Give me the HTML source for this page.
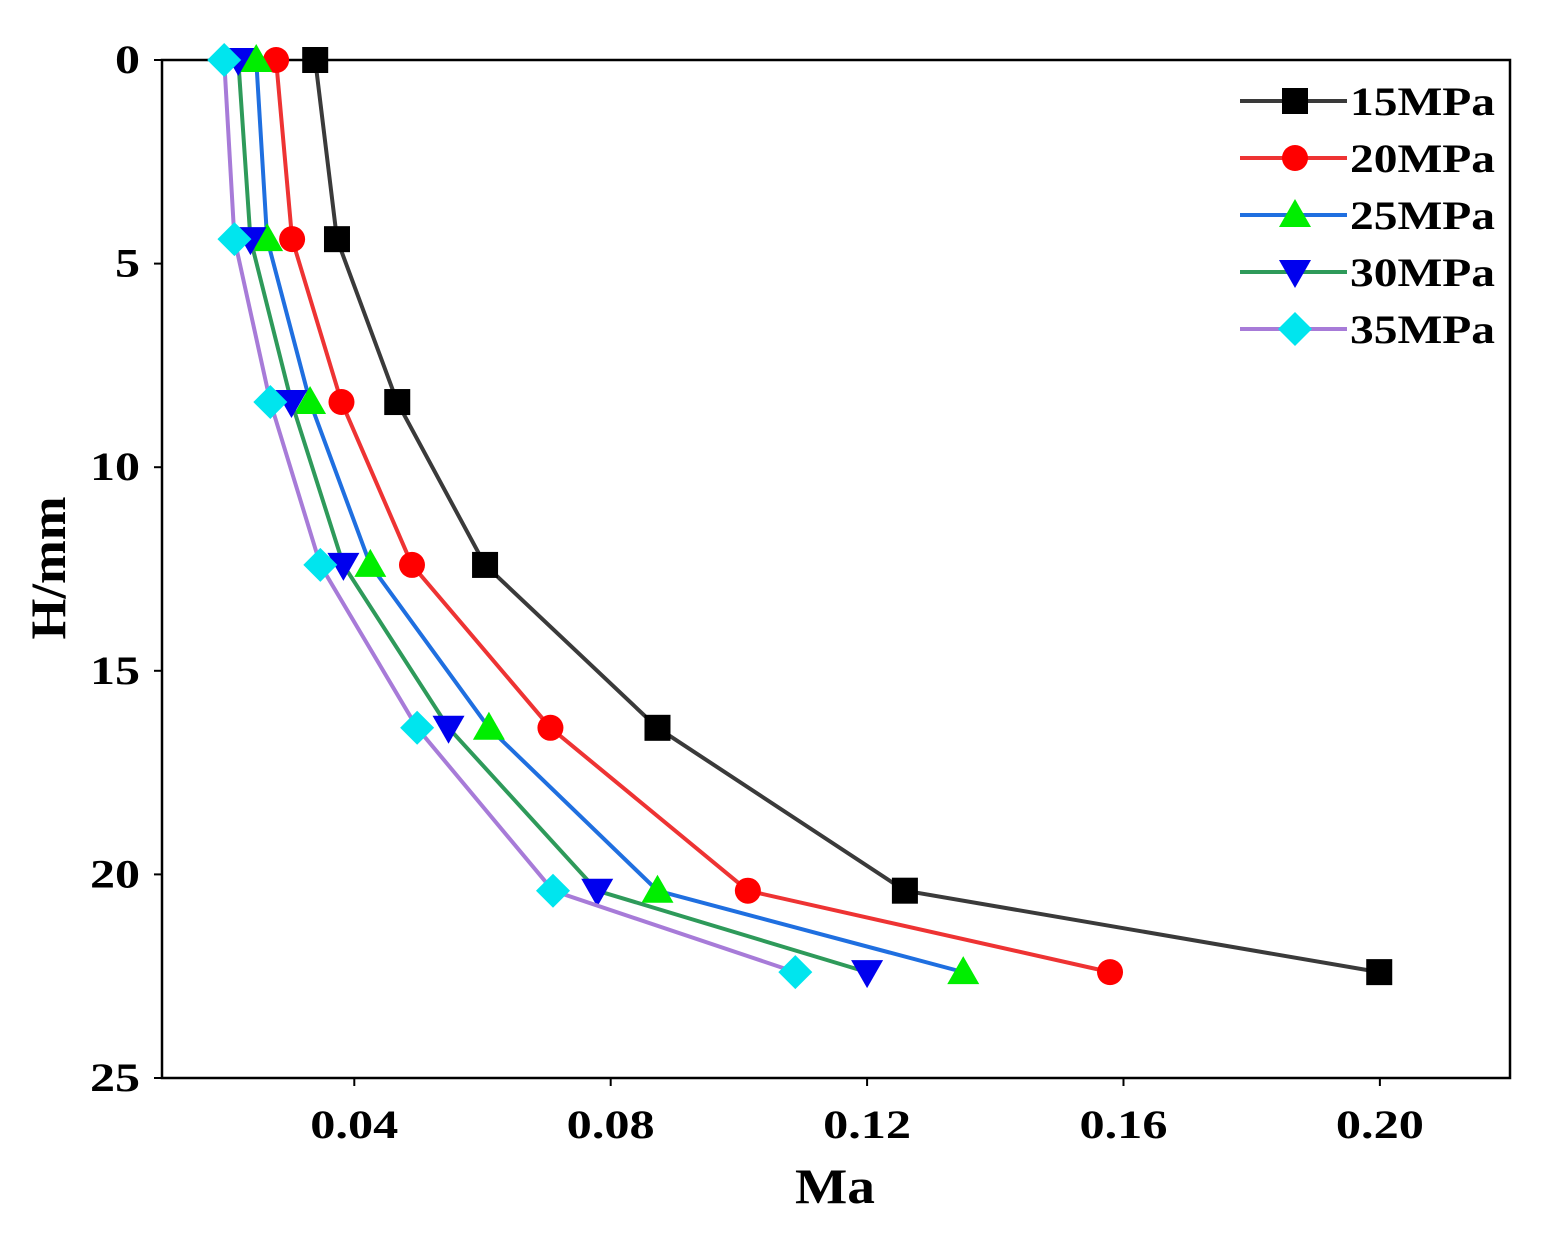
<!DOCTYPE html>
<html><head><meta charset="utf-8"><style>
body{margin:0;background:#fff}
svg text{font-family:"Liberation Serif",serif;font-weight:bold;fill:#000}
</style></head><body>
<svg id="chart" width="1555" height="1244" xmlns="http://www.w3.org/2000/svg"></svg>
<script>
const depths=[0,4.4,8.4,12.4,16.4,20.4,22.4];
const s15=[0.0339,0.0373,0.0467,0.0604,0.0873,0.1259,0.1999];
const s20=[0.0278,0.0303,0.0380,0.0490,0.0706,0.1014,0.1579];
const s25=[0.0247,0.0264,0.0331,0.0425,0.0610,0.0873,0.1350];
const s30=[0.0219,0.0238,0.0302,0.0383,0.0547,0.0779,0.1200];
const s35=[0.0197,0.0213,0.0269,0.0347,0.0498,0.0710,0.1088];
const seriesNames=["15MPa","20MPa","25MPa","30MPa","35MPa"];
const xTicks=[0.04,0.08,0.12,0.16,0.20];
const xTickLabels=["0.04","0.08","0.12","0.16","0.20"];
const yTicks=[0,5,10,15,20,25];
const yTickLabels=["0","5","10","15","20","25"];

const L=162,R=1510,T=60,B=1078;
const xmin=0.01,xmax=0.2203,ymin=0,ymax=25;
const X=v=>L+(v-xmin)/(xmax-xmin)*(R-L);
const Y=v=>T+(v-ymin)/(ymax-ymin)*(B-T);
const svg=document.getElementById('chart');
const NS="http://www.w3.org/2000/svg";
function mk(tag,attrs,parent){const e=document.createElementNS(NS,tag);for(const k in attrs)e.setAttribute(k,attrs[k]);(parent||svg).appendChild(e);return e;}

const frame=mk('rect',{x:L,y:T,width:R-L,height:B-T,fill:'none',stroke:'#000','stroke-width':2.5});



xTicks.forEach((t,i)=>{
  const tk=mk('line',{x1:X(t),x2:X(t),y1:B,y2:B+8,stroke:'#000','stroke-width':2});
  
  
  const tx=mk('text',{x:X(t),y:B+60,'font-size':40,'text-anchor':'middle',textLength:88,lengthAdjust:'spacingAndGlyphs'});
  tx.textContent=xTickLabels[i];
  
  
});
yTicks.forEach((t,i)=>{
  const tk=mk('line',{x1:L-8,x2:L,y1:Y(t),y2:Y(t),stroke:'#000','stroke-width':2});
  
  
  const w=yTickLabels[i].length*25;
  const tx=mk('text',{x:L-22,y:Y(t)+13,'font-size':40,'text-anchor':'end',textLength:w,lengthAdjust:'spacingAndGlyphs'});
  tx.textContent=yTickLabels[i];
  
  
});
const xt=mk('text',{x:835,y:1203,'font-size':50,'text-anchor':'middle',textLength:80,lengthAdjust:'spacingAndGlyphs'});
xt.textContent='Ma';


const yt=mk('text',{x:0,y:0,'font-size':50,'text-anchor':'middle',textLength:143,lengthAdjust:'spacingAndGlyphs',transform:'translate(65,568) rotate(-90)'});
yt.textContent='H/mm';



const lineColors=["#3a3a3a","#ee3333","#1f6fe0","#2e9a5a","#a77bd8"];
const markColors=["#000000","#ff0000","#00ee00","#0000ee","#00e5ee"];
const shapes=["square","circle","up","down","diamond"];
const data=[s15,s20,s25,s30,s35];

function marker(shape,cx,cy,color,parent){
  const s=13;let e;
  if(shape==='square')e=mk('rect',{x:cx-s,y:cy-s,width:2*s,height:2*s,fill:color},parent);
  else if(shape==='circle')e=mk('circle',{cx:cx,cy:cy,r:s,fill:color},parent);
  else if(shape==='up')e=mk('polygon',{points:`${cx},${cy-16} ${cx-16},${cy+12} ${cx+16},${cy+12}`,fill:color},parent);
  else if(shape==='down')e=mk('polygon',{points:`${cx},${cy+16} ${cx-16},${cy-12} ${cx+16},${cy-12}`,fill:color},parent);
  else e=mk('polygon',{points:`${cx},${cy-17} ${cx+17},${cy} ${cx},${cy+17} ${cx-17},${cy}`,fill:color},parent);
  return e;
}

data.forEach((vals,si)=>{
  const g=mk('g',{});
  
  
  const pts=vals.map((v,i)=>X(v)+','+Y(depths[i])).join(' ');
  const pl=mk('polyline',{points:pts,fill:'none',stroke:lineColors[si],'stroke-width':4,'stroke-linejoin':'round'},g);
  
  
  vals.forEach((v,i)=>{
    const m=marker(shapes[si],X(v),Y(depths[i]),markColors[si],g);
    
    
  });
});

const lg=mk('g',{});


seriesNames.forEach((n,i)=>{
  const y=101+i*57;
  const ln=mk('line',{x1:1240,x2:1347,y1:y,y2:y,stroke:lineColors[i],'stroke-width':4},lg);
  
  
  const m=marker(shapes[i],1295,y,markColors[i],lg);
  
  
  const t=mk('text',{x:1350,y:y+14,'font-size':40,textLength:145,lengthAdjust:'spacingAndGlyphs'},lg);
  t.textContent=n;
  
  
});
</script>
</body></html>
